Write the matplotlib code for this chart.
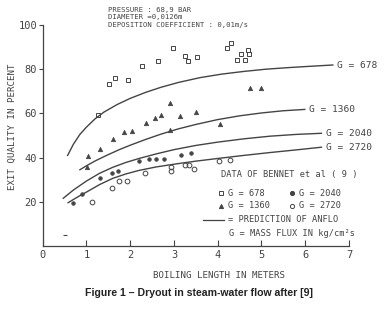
import matplotlib
matplotlib.use("Agg")
import matplotlib.pyplot as plt
from matplotlib import font_manager

l_678 = [1.26, 1.51, 1.65, 1.96, 2.27, 2.64, 2.97, 3.25, 3.31, 3.52, 4.22, 4.30, 4.45, 4.53, 4.63, 4.69, 4.72]
x_678 = [59.3, 73.3, 76.2, 75.1, 81.6, 83.7, 89.7, 86.1, 83.7, 85.7, 89.7, 92.0, 84.2, 86.7, 84.2, 88.7, 86.7]
l_1360 = [1.02, 1.04, 1.32, 1.61, 1.86, 2.04, 2.37, 2.56, 2.70, 2.90, 2.92, 3.14, 3.51, 4.05, 4.73, 5.00]
x_1360 = [35.8, 40.6, 43.9, 48.3, 51.4, 52.2, 55.8, 57.8, 59.3, 64.8, 52.6, 59.0, 60.5, 55.0, 71.4, 71.4]
l_2040 = [0.70, 0.90, 1.32, 1.58, 1.73, 2.19, 2.43, 2.60, 2.77, 3.16, 3.39]
x_2040 = [19.3, 23.4, 30.8, 33.0, 34.1, 38.3, 39.4, 39.4, 39.2, 41.0, 41.9]
l_2720 = [1.13, 1.58, 1.74, 1.92, 2.33, 2.93, 2.93, 3.25, 3.34, 3.46, 4.03, 4.29]
x_2720 = [20.1, 26.2, 29.4, 29.4, 33.2, 35.8, 34.0, 36.5, 36.5, 34.7, 38.5, 38.9]
l_speck = [0.51]
x_speck = [5.0]

# -- ANFLO predictions
p_678_l = [0.57, 0.7, 0.85, 1.0, 1.2, 1.4, 1.7, 2.0, 2.35, 2.7, 3.1, 3.6, 4.1, 4.6, 5.1, 5.6, 6.1, 6.63]
p_678_x = [41.0, 46.0, 50.5, 53.8, 57.6, 60.6, 64.0, 66.8, 69.5, 71.8, 74.0, 76.2, 77.8, 79.0, 80.0, 80.7, 81.3, 81.9]
p_1360_l = [0.85, 1.0, 1.2, 1.46, 1.75, 2.0, 2.35, 2.7, 3.1, 3.5, 4.0, 4.5, 5.0, 5.5, 5.99]
p_1360_x = [34.5, 36.3, 38.5, 41.0, 43.6, 45.6, 48.2, 50.6, 53.0, 55.0, 57.2, 58.9, 60.2, 61.2, 61.8]
p_2040_l = [0.47, 0.7, 1.0, 1.3, 1.6, 1.9, 2.2, 2.6, 3.0, 3.5, 4.0, 4.6, 5.2, 5.8, 6.37]
p_2040_x = [21.6, 25.3, 29.4, 32.9, 35.6, 37.8, 39.6, 41.7, 43.6, 45.5, 47.0, 48.5, 49.7, 50.5, 51.0]
p_2720_l = [0.58, 0.8, 1.0, 1.3, 1.6, 1.9, 2.2, 2.6, 3.0, 3.5, 4.0, 4.6, 5.2, 5.8, 6.37]
p_2720_x = [19.6, 22.2, 24.4, 27.8, 30.6, 32.6, 34.2, 35.8, 37.0, 38.4, 39.6, 41.0, 42.3, 43.5, 44.7]

curve_labels = ["G = 678", "G = 1360", "G = 2040", "G = 2720"]

ink = '#444444'
mono = 'DejaVu Sans Mono'
names = [f.name for f in font_manager.fontManager.ttflist]
narrow = 'Liberation Sans Narrow' if 'Liberation Sans Narrow' in names else mono

W, H = 389, 314
fig = plt.figure(figsize=(W / 100., H / 100.), dpi=100)
ax = fig.add_axes([42.7 / W, 1 - 246. / H, (349 - 42.7) / W, (246 - 25.) / H])

# data points
ax.plot(l_678, x_678, ls='none', marker='s', ms=3.2, mfc='none', mec=ink, mew=0.7)
ax.plot(l_1360, x_1360, ls='none', marker='^', ms=3.2, mfc=ink, mec=ink, mew=0.5)
ax.plot(l_2040, x_2040, ls='none', marker='o', ms=2.6, mfc=ink, mec=ink, mew=0.5)
ax.plot(l_2720, x_2720, ls='none', marker='o', ms=3.4, mfc='none', mec=ink, mew=0.7)
ax.plot(l_speck, x_speck, ls='none', marker='_', ms=2.5, mec=ink, mew=0.8)

# prediction curves with end labels
curves = [(p_678_l, p_678_x), (p_1360_l, p_1360_x), (p_2040_l, p_2040_x), (p_2720_l, p_2720_x)]
for (cl, cx), lab in zip(curves, curve_labels):
    ax.plot(cl, cx, color=ink, lw=1.0, solid_joinstyle='round')
    ax.text(cl[-1] + 0.1, cx[-1], lab, fontsize=6.8, family=mono, color=ink,
            va='center', ha='left', clip_on=False)

ax.set_xlim(0, 7)
ax.set_ylim(0, 100)
ax.set_xticks(range(0, 8))
ax.set_yticks([20, 40, 60, 80, 100])
for s in ['top', 'right']:
    ax.spines[s].set_visible(False)
for s in ['left', 'bottom']:
    ax.spines[s].set_color(ink)
    ax.spines[s].set_linewidth(0.9)
ax.tick_params(axis='x', direction='in', length=4, width=0.8, color=ink, pad=3,
               labelsize=7.5, labelcolor=ink)
ax.tick_params(axis='y', direction='out', length=3, width=0.8, color=ink, pad=1,
               labelsize=7.5, labelcolor=ink)
for t in ax.get_xticklabels() + ax.get_yticklabels():
    t.set_family(narrow)

# axis titles
fig.text(12. / W, 1 - 127. / H, "EXIT QUALITY IN PERCENT", rotation=90, fontsize=6.6,
         family=mono, color=ink, ha='center', va='center')
fig.text(219. / W, 1 - 275. / H, "BOILING LENGTH IN METERS", fontsize=6.6,
         family=mono, color=ink, ha='center', va='center')

# run conditions
cond = ["PRESSURE : 68,9 BAR", "DIAMETER =0,0126m", "DEPOSITION COEFFICIENT : 0,01m/s"]
for i, line in enumerate(cond):
    fig.text(108. / W, 1 - (10. + 7.5 * i) / H, line, fontsize=5.2, family=mono,
             color=ink, ha='left', va='center')

# key
fs = 6.2
fig.text(221. / W, 1 - 175. / H, "DATA OF BENNET et al ( 9 )", fontsize=fs, family=mono,
         color=ink, va='center')
keys = [(221, 193, 's', 'none', "G = 678"), (292, 193, 'o', ink, "G = 2040"),
        (221, 206, '^', ink, "G = 1360"), (292, 206, 'o', 'none', "G = 2720")]
for kx, ky, mk, fc, txt in keys:
    fig.lines.append(plt.Line2D([kx / W], [1 - ky / H], marker=mk, ms=3.0, mfc=fc, mec=ink,
                                mew=0.7, ls='none', transform=fig.transFigure))
    fig.text((kx + 7.) / W, 1 - ky / H, txt, fontsize=fs, family=mono, color=ink, va='center')
fig.lines.append(plt.Line2D([203. / W, 224. / W], [1 - 220. / H, 1 - 220. / H], color=ink,
                            lw=0.9, transform=fig.transFigure))
fig.text(228. / W, 1 - 220. / H, "= PREDICTION OF ANFLO", fontsize=fs, family=mono,
         color=ink, va='center')
fig.text(229. / W, 1 - 234. / H, "G = MASS FLUX IN kg/cm\u00b2s", fontsize=fs, family=mono,
         color=ink, va='center')

# caption
fig.text(199. / W, 1 - 293. / H, "Figure 1 \u2013 Dryout in steam-water flow after [9]",
         fontsize=7.6, family='Liberation Sans', weight='bold', color='#222222',
         ha='center', va='center')

fig.savefig("out.png", dpi=100)
